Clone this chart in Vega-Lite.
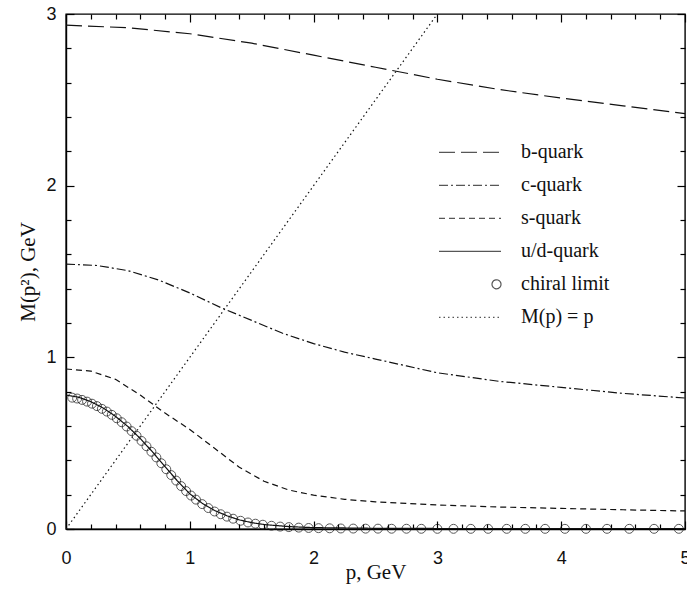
{
  "$schema": "https://vega.github.io/schema/vega-lite/v6.json",
  "width": 619,
  "height": 515,
  "autosize": {"type": "none"},
  "padding": {"left": 66, "top": 14, "right": 2, "bottom": 60},
  "background": "white",
  "datasets": {
    "curves": [
      {"series": "b-quark", "p": 0, "M": 2.935},
      {"series": "b-quark", "p": 0.5, "M": 2.92},
      {"series": "b-quark", "p": 1.0, "M": 2.885},
      {"series": "b-quark", "p": 1.5, "M": 2.83},
      {"series": "b-quark", "p": 2.0, "M": 2.76},
      {"series": "b-quark", "p": 2.5, "M": 2.69},
      {"series": "b-quark", "p": 3.0, "M": 2.62},
      {"series": "b-quark", "p": 3.5, "M": 2.56},
      {"series": "b-quark", "p": 4.0, "M": 2.51},
      {"series": "b-quark", "p": 4.5, "M": 2.465},
      {"series": "b-quark", "p": 5.0, "M": 2.42},
      {"series": "c-quark", "p": 0, "M": 1.543},
      {"series": "c-quark", "p": 0.25, "M": 1.535},
      {"series": "c-quark", "p": 0.5, "M": 1.505},
      {"series": "c-quark", "p": 0.75, "M": 1.45},
      {"series": "c-quark", "p": 1.0, "M": 1.375},
      {"series": "c-quark", "p": 1.25, "M": 1.29},
      {"series": "c-quark", "p": 1.5, "M": 1.215},
      {"series": "c-quark", "p": 1.75, "M": 1.14},
      {"series": "c-quark", "p": 2.0, "M": 1.08},
      {"series": "c-quark", "p": 2.25, "M": 1.03},
      {"series": "c-quark", "p": 2.5, "M": 0.99},
      {"series": "c-quark", "p": 2.75, "M": 0.95},
      {"series": "c-quark", "p": 3.0, "M": 0.91},
      {"series": "c-quark", "p": 3.5, "M": 0.86},
      {"series": "c-quark", "p": 4.0, "M": 0.825},
      {"series": "c-quark", "p": 4.5, "M": 0.79},
      {"series": "c-quark", "p": 5.0, "M": 0.763},
      {"series": "s-quark", "p": 0, "M": 0.932},
      {"series": "s-quark", "p": 0.2, "M": 0.92},
      {"series": "s-quark", "p": 0.4, "M": 0.872},
      {"series": "s-quark", "p": 0.6, "M": 0.78},
      {"series": "s-quark", "p": 0.8, "M": 0.675},
      {"series": "s-quark", "p": 1.0, "M": 0.58},
      {"series": "s-quark", "p": 1.2, "M": 0.47},
      {"series": "s-quark", "p": 1.4, "M": 0.36},
      {"series": "s-quark", "p": 1.6, "M": 0.278},
      {"series": "s-quark", "p": 1.8, "M": 0.227},
      {"series": "s-quark", "p": 2.0, "M": 0.197},
      {"series": "s-quark", "p": 2.25, "M": 0.173},
      {"series": "s-quark", "p": 2.5, "M": 0.158},
      {"series": "s-quark", "p": 3.0, "M": 0.14},
      {"series": "s-quark", "p": 3.5, "M": 0.128},
      {"series": "s-quark", "p": 4.0, "M": 0.12},
      {"series": "s-quark", "p": 4.5, "M": 0.112},
      {"series": "s-quark", "p": 5.0, "M": 0.105},
      {"series": "u/d-quark", "p": 0, "M": 0.78},
      {"series": "u/d-quark", "p": 0.1, "M": 0.768},
      {"series": "u/d-quark", "p": 0.2, "M": 0.742},
      {"series": "u/d-quark", "p": 0.3, "M": 0.705},
      {"series": "u/d-quark", "p": 0.4, "M": 0.656},
      {"series": "u/d-quark", "p": 0.5, "M": 0.597},
      {"series": "u/d-quark", "p": 0.6, "M": 0.527},
      {"series": "u/d-quark", "p": 0.7, "M": 0.448},
      {"series": "u/d-quark", "p": 0.8, "M": 0.363},
      {"series": "u/d-quark", "p": 0.9, "M": 0.28},
      {"series": "u/d-quark", "p": 1.0, "M": 0.205},
      {"series": "u/d-quark", "p": 1.1, "M": 0.15},
      {"series": "u/d-quark", "p": 1.2, "M": 0.108},
      {"series": "u/d-quark", "p": 1.3, "M": 0.077},
      {"series": "u/d-quark", "p": 1.4, "M": 0.053},
      {"series": "u/d-quark", "p": 1.5, "M": 0.037},
      {"series": "u/d-quark", "p": 1.6, "M": 0.026},
      {"series": "u/d-quark", "p": 1.8, "M": 0.014},
      {"series": "u/d-quark", "p": 2.0, "M": 0.008},
      {"series": "u/d-quark", "p": 2.5, "M": 0.004},
      {"series": "u/d-quark", "p": 3.0, "M": 0.003},
      {"series": "u/d-quark", "p": 4.0, "M": 0.003},
      {"series": "u/d-quark", "p": 5.0, "M": 0.003},
      {"series": "M(p) = p", "p": 0, "M": 0},
      {"series": "M(p) = p", "p": 3, "M": 3}
    ],
    "chiral": [
      {"p": 0.05, "M": 0.765}, {"p": 0.09, "M": 0.76}, {"p": 0.13, "M": 0.752},
      {"p": 0.17, "M": 0.742}, {"p": 0.21, "M": 0.73}, {"p": 0.25, "M": 0.716},
      {"p": 0.29, "M": 0.70}, {"p": 0.33, "M": 0.684}, {"p": 0.37, "M": 0.665},
      {"p": 0.41, "M": 0.645}, {"p": 0.45, "M": 0.622}, {"p": 0.49, "M": 0.597},
      {"p": 0.53, "M": 0.57}, {"p": 0.57, "M": 0.543}, {"p": 0.61, "M": 0.513},
      {"p": 0.65, "M": 0.482}, {"p": 0.69, "M": 0.45}, {"p": 0.73, "M": 0.417},
      {"p": 0.77, "M": 0.383}, {"p": 0.81, "M": 0.348}, {"p": 0.85, "M": 0.314},
      {"p": 0.89, "M": 0.282}, {"p": 0.93, "M": 0.25}, {"p": 0.97, "M": 0.221},
      {"p": 1.01, "M": 0.195}, {"p": 1.05, "M": 0.171}, {"p": 1.10, "M": 0.145},
      {"p": 1.15, "M": 0.122}, {"p": 1.20, "M": 0.102}, {"p": 1.25, "M": 0.086},
      {"p": 1.30, "M": 0.072}, {"p": 1.35, "M": 0.06}, {"p": 1.41, "M": 0.048},
      {"p": 1.47, "M": 0.038}, {"p": 1.53, "M": 0.031}, {"p": 1.59, "M": 0.025},
      {"p": 1.66, "M": 0.019}, {"p": 1.73, "M": 0.014}, {"p": 1.80, "M": 0.011},
      {"p": 1.88, "M": 0.008}, {"p": 1.96, "M": 0.006}, {"p": 2.04, "M": 0.005},
      {"p": 2.13, "M": 0.004}, {"p": 2.22, "M": 0.003}, {"p": 2.32, "M": 0.0025},
      {"p": 2.42, "M": 0.002}, {"p": 2.52, "M": 0.002}, {"p": 2.63, "M": 0.0015},
      {"p": 2.75, "M": 0.0015}, {"p": 2.87, "M": 0.0012}, {"p": 3.00, "M": 0.001},
      {"p": 3.13, "M": 0.001}, {"p": 3.27, "M": 0.001}, {"p": 3.41, "M": 0.001},
      {"p": 3.56, "M": 0.001}, {"p": 3.71, "M": 0.001}, {"p": 3.87, "M": 0.001},
      {"p": 4.03, "M": 0.001}, {"p": 4.20, "M": 0.001}, {"p": 4.37, "M": 0.001},
      {"p": 4.55, "M": 0.001}, {"p": 4.75, "M": 0.001}, {"p": 4.95, "M": 0.001}
    ]
  },
  "layer": [
    {
      "data": {"name": "curves"},
      "mark": {"type": "line", "stroke": "#111", "strokeWidth": 1.2, "clip": true},
      "encoding": {
        "x": {
          "field": "p", "type": "quantitative",
          "scale": {"domain": [0, 5], "nice": false, "zero": false},
          "axis": {
            "orient": "bottom", "values": [0, 1, 2, 3, 4, 5], "format": "d",
            "tickSize": 0, "labelPadding": 20, "grid": false,
            "title": "p, GeV", "titleBaseline": "alphabetic", "titleY": 49
          }
        },
        "y": {
          "field": "M", "type": "quantitative",
          "scale": {"domain": [0, 3], "nice": false, "zero": false},
          "axis": {
            "orient": "left", "values": [0, 1, 2, 3], "format": "d",
            "tickSize": 0, "labelPadding": 10, "grid": false,
            "title": "M(p²), GeV", "titlePadding": 7
          }
        },
        "strokeDash": {
          "field": "series", "type": "nominal",
          "scale": {
            "domain": ["b-quark", "c-quark", "s-quark", "u/d-quark", "chiral limit", "M(p) = p"],
            "range": [[16, 6], [9, 3, 2, 3], [6, 4], [1, 0], [1, 0], [1.5, 3]]
          },
          "legend": {"orient": "none", "legendX": 372, "legendY": 122, "title": null}
        }
      }
    },
    {
      "data": {"name": "chiral"},
      "mark": {"type": "point", "shape": "circle", "size": 80, "filled": false, "stroke": "#111", "strokeWidth": 1},
      "encoding": {
        "x": {
          "field": "p", "type": "quantitative",
          "axis": {"orient": "top", "offset": -515, "values": [0, 1, 2, 3, 4, 5], "labels": false, "title": null, "domain": false, "grid": false, "tickSize": 8}
        },
        "y": {
          "field": "M", "type": "quantitative",
          "axis": {"orient": "right", "offset": -619, "values": [0, 1, 2, 3], "labels": false, "title": null, "domain": false, "grid": false, "tickSize": 8}
        }
      }
    },
    {
      "data": {"name": "curves"},
      "transform": [{"filter": "datum.series === 'none'"}],
      "mark": {"type": "point", "filled": false},
      "encoding": {
        "x": {
          "field": "p", "type": "quantitative",
          "axis": {"orient": "bottom", "offset": -515, "values": [0, 1, 2, 3, 4, 5], "labels": false, "title": null, "domain": false, "grid": false, "tickSize": 8}
        },
        "y": {
          "field": "M", "type": "quantitative",
          "axis": {"orient": "left", "offset": -619, "values": [0, 1, 2, 3], "labels": false, "title": null, "domain": false, "grid": false, "tickSize": 8}
        },
        "shape": {
          "field": "series", "type": "nominal",
          "scale": {
            "domain": ["b-quark", "c-quark", "s-quark", "u/d-quark", "chiral limit", "M(p) = p"],
            "range": ["stroke", "stroke", "stroke", "stroke", "M1,0C1,0.0718,0.9418,0.145,0.855,0.145C0.7682,0.145,0.71,0.0718,0.71,0C0.71,-0.0718,0.7682,-0.145,0.855,-0.145C0.9418,-0.145,1,-0.0718,1,0Z", "stroke"]
          },
          "legend": {"orient": "none", "legendX": 372, "legendY": 122, "title": null}
        }
      }
    },
    {
      "data": {"name": "curves"},
      "transform": [{"filter": "datum.series === 'none'"}],
      "mark": {"type": "point", "filled": false},
      "encoding": {
        "x": {
          "field": "p", "type": "quantitative",
          "axis": {"orient": "top", "offset": -515, "values": [0.2, 0.4, 0.6, 0.8, 1.2, 1.4, 1.6, 1.8, 2.2, 2.4, 2.6, 2.8, 3.2, 3.4, 3.6, 3.8, 4.2, 4.4, 4.6, 4.8], "labels": false, "title": null, "domain": false, "grid": false, "tickSize": 5}
        },
        "y": {
          "field": "M", "type": "quantitative",
          "axis": {"orient": "right", "offset": -619, "values": [0.2, 0.4, 0.6, 0.8, 1.2, 1.4, 1.6, 1.8, 2.2, 2.4, 2.6, 2.8], "labels": false, "title": null, "domain": false, "grid": false, "tickSize": 5}
        }
      }
    },
    {
      "data": {"name": "curves"},
      "transform": [{"filter": "datum.series === 'none'"}],
      "mark": {"type": "point", "filled": false},
      "encoding": {
        "x": {
          "field": "p", "type": "quantitative",
          "axis": {"orient": "bottom", "offset": -515, "values": [0.2, 0.4, 0.6, 0.8, 1.2, 1.4, 1.6, 1.8, 2.2, 2.4, 2.6, 2.8, 3.2, 3.4, 3.6, 3.8, 4.2, 4.4, 4.6, 4.8], "labels": false, "title": null, "domain": false, "grid": false, "tickSize": 5}
        },
        "y": {
          "field": "M", "type": "quantitative",
          "axis": {"orient": "left", "offset": -619, "values": [0.2, 0.4, 0.6, 0.8, 1.2, 1.4, 1.6, 1.8, 2.2, 2.4, 2.6, 2.8], "labels": false, "title": null, "domain": false, "grid": false, "tickSize": 5}
        }
      }
    }
  ],
  "resolve": {"axis": {"x": "independent", "y": "independent"}},
  "config": {
    "view": {"stroke": "black", "strokeWidth": 1.4},
    "axis": {
      "domainColor": "black",
      "domainWidth": 1.4,
      "tickColor": "black",
      "tickWidth": 1.2,
      "labelFont": "Liberation Sans",
      "labelFontSize": 18,
      "labelColor": "#111",
      "labelFlush": false,
      "labelOverlap": false,
      "titleFont": "Liberation Serif",
      "titleFontSize": 21,
      "titleFontWeight": "normal",
      "titleColor": "#111"
    },
    "legend": {
      "symbolSize": 3844,
      "symbolStrokeWidth": 1.2,
      "symbolStrokeColor": "#111",
      "symbolFillColor": "transparent",
      "clipHeight": 32.6,
      "rowPadding": 0,
      "padding": 0,
      "labelOffset": 19,
      "labelFont": "Liberation Serif",
      "labelFontSize": 20,
      "labelColor": "#111",
      "labelLimit": 300
    }
  }
}
